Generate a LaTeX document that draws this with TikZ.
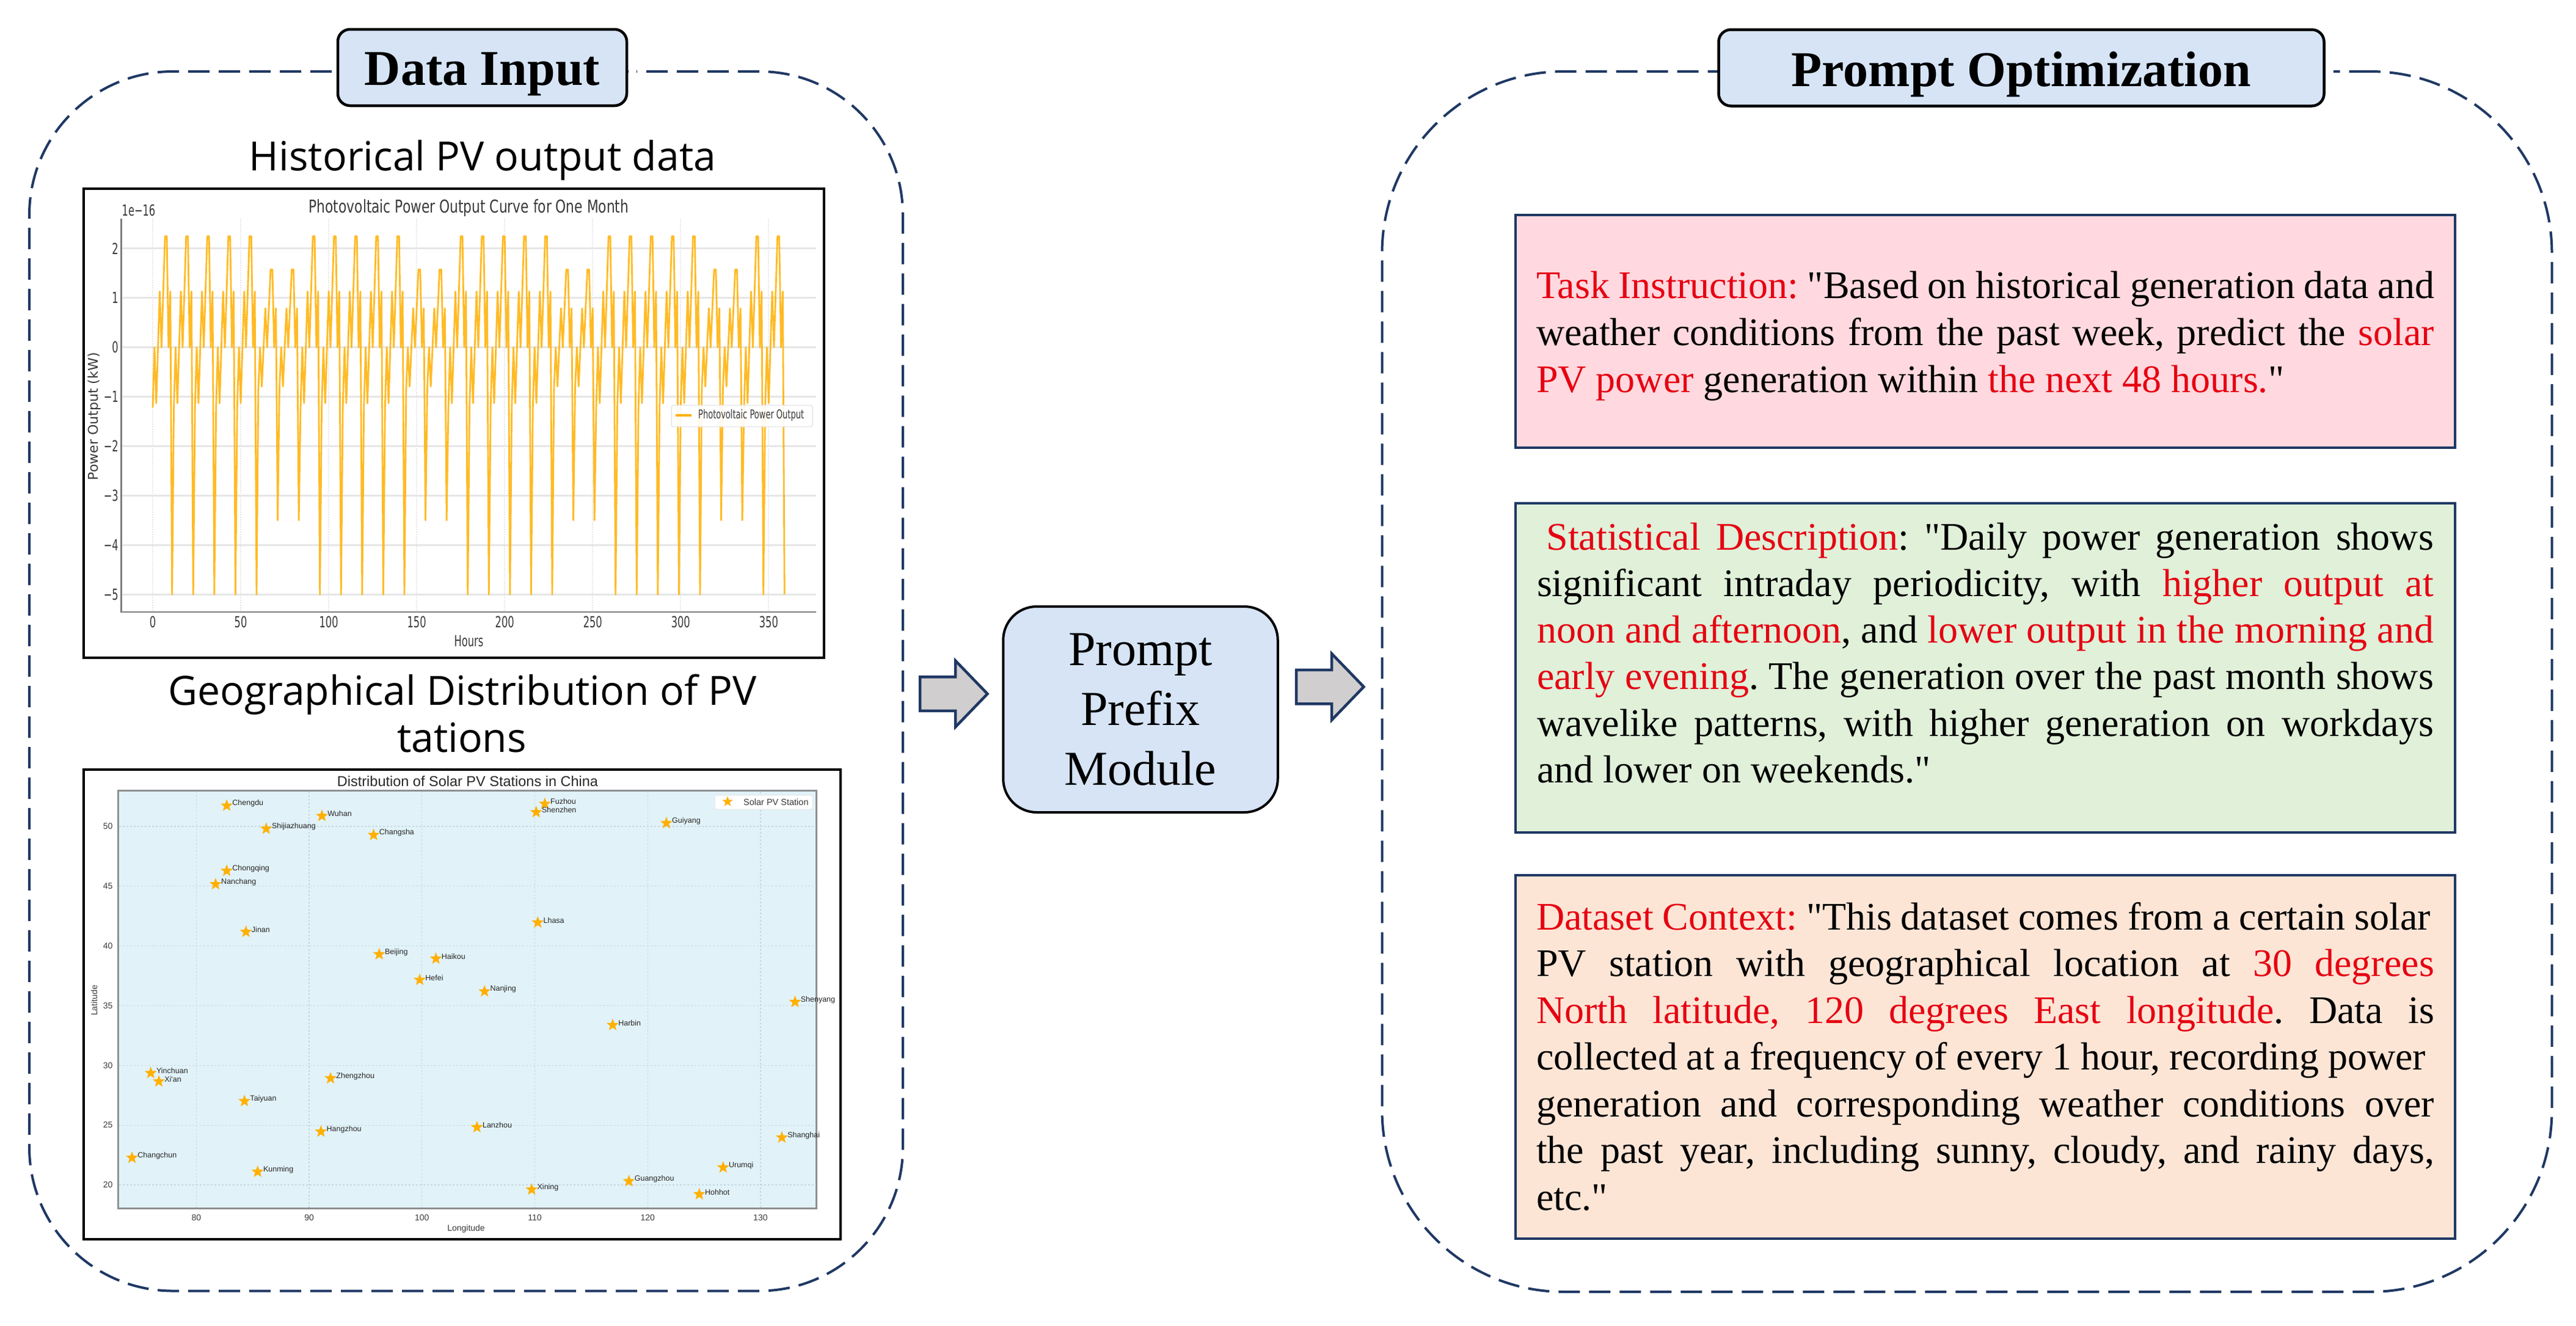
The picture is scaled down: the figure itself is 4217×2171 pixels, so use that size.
\documentclass[tikz,border=0pt]{standalone}
\usepackage{fontspec}
\usepackage{graphicx}
\usetikzlibrary{shapes.geometric,shapes.arrows}
\setmainfont{Liberation Serif}
\newfontfamily\quotefont{Liberation Serif}
\newfontfamily\plotfont{DejaVu Sans}
\newfontfamily\arialfont{Liberation Sans}
\newfontfamily\capfont{Open Sans}
\definecolor{navy}{HTML}{1F3864}
\definecolor{boxblue}{HTML}{D6E4F6}
\definecolor{arrowgrey}{HTML}{D0CECE}
\definecolor{pinkpanel}{HTML}{FFD9DF}
\definecolor{greenpanel}{HTML}{E0F0D9}
\definecolor{peachpanel}{HTML}{FDE5D6}
\definecolor{redtext}{HTML}{E60012}
\definecolor{pvorange}{HTML}{FFB000}
\definecolor{mapblue}{HTML}{E1F2F9}
\definecolor{gridgrey}{HTML}{E6E6E6}
\definecolor{mapgrid}{HTML}{C6D8DF}
\definecolor{axisgrey}{HTML}{7F7F7F}
\definecolor{plottext}{HTML}{3A3A3A}
\newcommand\cond[2][.65]{\scalebox{#1}[1]{#2}}
\newcommand\redt[1]{\textcolor{redtext}{#1}}
\newcommand\qq{{\quotefont "}}
\newcommand\pl[2][\textlinew]{\makebox[#1][s]{#2}\par}
\newcommand\plain[1]{\mbox{#1}\par}
\newlength\textlinew
\setlength\textlinew{1470pt}
\newcommand\fsz[2]{\fontsize{#1}{#2}\selectfont}
\tikzset{
  dashpanel/.style={draw=navy,line width=4,dash pattern=on 35pt off 15pt,rectangle,inner sep=0,outer sep=0},
  titlebox/.style={draw=black,fill=boxblue,line width=4.5,rounded corners=20,inner sep=0,outer sep=0,align=center,
    font=\fsz{82}{90}\bfseries},
  promptbox/.style={draw=black,fill=boxblue,line width=4,rounded corners=55,inner sep=0,outer sep=0,
    minimum width=449.5,minimum height=337,align=center,font=\fsz{80}{98}},
  blockarrow/.style={single arrow,draw=navy,fill=arrowgrey,line width=4.5,inner xsep=0,inner ysep=25.5,outer sep=0,
    minimum height=110.5,single arrow head extend=26.5,single arrow tip angle=92,
    single arrow head indent=0},
  textpanel/.style={draw=navy,line width=4.5,inner sep=0,outer sep=0,minimum width=1538},
  paneltext/.style={anchor=base west,inner sep=0,outer sep=0,font=\fsz{64}{77}\frenchspacing},
  captiontext/.style={anchor=base,inner sep=0,font=\capfont\fsz{66}{77}},
  frame/.style={draw=black,line width=4,fill=white,inner sep=0,outer sep=0},
  c1text/.style={inner sep=0,text=plottext,font=\plotfont\fsz{25}{28}},
  c1grid/.style={gridgrey,line width=3},
  c1vgrid/.style={gridgrey,line width=2,dotted},
  axis1/.style={axisgrey,line width=2.5},
  c2tick/.style={inner sep=0,text=plottext,font=\arialfont\fsz{14}{16}},
  c2grid/.style={mapgrid,line width=1.3,dashed},
  pvstar/.style={star,star points=5,star point ratio=2.4,fill=pvorange,inner sep=0,outer sep=0,minimum size=21},
  stlabel/.style={anchor=west,inner sep=0,text=black!85,font=\arialfont\fsz{12.5}{14}},
  declare function={pvhour(\h)={-1.22,0,-1.13,0,1.13,0,1.13,2.25,2.25,0,1.13,-5}[int(mod(\h,12))];
    pvday(\h)=(mod(int(\h/12),7)>=5)?0.7:1;}
}
\begin{document}
\begin{tikzpicture}[x=1pt,y=-1pt]
\useasboundingbox (0,0) rectangle (4217,2171);

% dashed outlines
\node[dashpanel,rounded corners=235,minimum width=1430,minimum height=1996.5] (inputpanel) at (763,1115.25) {};
\node[dashpanel,rounded corners=297,minimum width=1915,minimum height=1998] (optpanel) at (3220,1116) {};

% titles
\node[titlebox,minimum width=473,minimum height=125,text height=77,text depth=20] (inputtitle) at (789.5,110.5) {Data Input};
\node[titlebox,minimum width=991,minimum height=125,text height=80,text depth=20] (opttitle) at (3309,111) {Prompt Optimization};
\draw[white,line width=9] ([xshift=2.5pt,yshift=-6.5pt]inputtitle.east) -- ++(13,0);
\draw[white,line width=9] ([xshift=2.5pt,yshift=-6pt]opttitle.east) -- ++(13,0);

% captions
\node[captiontext] (cap1) at (790,279) {Historical PV output data};
\node[captiontext] (cap2) at (757,1154) {Geographical Distribution of PV};
\node[captiontext] (cap3) at (756,1231) {tations};

% ---------- chart 1 ----------
\node[frame,minimum width=1212,minimum height=768] (chartone) at (743,693) {};
\foreach \v in {2,1,0,-1,-2,-3,-4,-5}
  \draw[c1grid] (199,{568.7-80.9*\v}) -- (1335.5,{568.7-80.9*\v});
\foreach \t in {0,50,...,350}
  \draw[c1vgrid] ({250+2.881*\t},358) -- ({250+2.881*\t},1002);
\draw[pvorange,line width=2.8,line join=round,opacity=.85]
  plot[samples at={0,1,...,359},variable=\h] ({250+2.881*\h},{568.7-80.9*pvhour(\h)*pvday(\h)});
\draw[axis1] (198.7,358) -- (198.7,1002) -- (1335.5,1002);
\foreach \v/\lab in {2/2,1/1,0/0,-1/−1,-2/−2,-3/−3,-4/−4,-5/−5}
  \node[c1text,anchor=east] (yt\v) at (194,{568.7-80.9*\v}) {\cond{\lab}};
\foreach \t in {0,50,...,350}
  \node[c1text,anchor=base] (xt\t) at ({250+2.881*\t},1027) {\cond{\t}};
\node[c1text,anchor=base] (chartonetitle) at (767.5,348) {\cond[.75]{\fsz{29}{32}Photovoltaic Power Output Curve for One Month}};
\node[c1text,anchor=base west] (expo) at (199.5,353) {\cond{1e−16}};
\node[c1text,anchor=base] (hours) at (767.5,1058) {\cond{Hours}};
\node[c1text,rotate=90,font=\plotfont\fsz{22}{24}] (powerlabel) at (154,681.7) {Power Output (kW)};
\node[draw=gridgrey,line width=1.5,fill=white,fill opacity=.9,rounded corners=3,minimum width=231,minimum height=35,inner sep=0] (legendone) at (1214.5,681) {};
\coordinate (lega) at (1106,680);
\coordinate (legb) at (1132,680);
\draw[pvorange,line width=3.5] (lega) -- (legb);
\node[c1text,anchor=west,font=\plotfont\fsz{20}{22}] (legendonetext) at (1143,680) {\cond{Photovoltaic Power Output}};

% ---------- chart 2 ----------
\node[frame,minimum width=1239,minimum height=769] (charttwo) at (756.5,1644.5) {};
\node[fill=mapblue,draw=axisgrey!85!mapblue,line width=3,inner sep=0,outer sep=0,minimum width=1142.5,minimum height=684] (mapplot) at (765,1636.5) {};
\foreach \lon in {80,90,...,130}
  \draw[c2grid] ({321.4+18.47*(\lon-80)},1296) -- ({321.4+18.47*(\lon-80)},1977);
\foreach \lat in {20,25,...,50}
  \draw[c2grid] (195,{1940-19.57*(\lat-20)}) -- (1335,{1940-19.57*(\lat-20)});
\foreach \lon in {80,90,...,130}
  \node[c2tick,anchor=base] (lont\lon) at ({321.4+18.47*(\lon-80)},1998) {\lon};
\foreach \lat in {20,25,...,50}
  \node[c2tick,anchor=east] (latt\lat) at (184.6,{1940-19.57*(\lat-20)}) {\lat};
\node[inner sep=0,anchor=base,text=plottext!70!black,font=\arialfont\fsz{23.5}{26}] (charttwotitle) at (765.5,1287) {Distribution of Solar PV Stations in China};
\node[c2tick,anchor=base] (longlabel) at (763,2015.5) {Longitude};
\node[c2tick,rotate=90] (latlabel) at (154,1638) {Latitude};
\foreach \zx/\zy/\nm [count=\k] in {327/155/Chengdu,515/188/Wuhan,405/229/Shijiazhuang,617/249/Changsha,955/149/Fuzhou,938/176/Shenzhen,1195/211/Guiyang,327/364/Chongqing,305/407/Nanchang,365/560/Jinan,941/530/Lhasa,628/632/Beijing,740/646/Haikou,708/714/Hefei,836/751/Nanjing,1449/785/Shenyang,1089/859/Harbin,177/1013/Yinchuan,193/1040/Xi'an,532/1030/Zhengzhou,362/1103/Taiyuan,513/1201/Hangzhou,821/1187/Lanzhou,1423/1220/Shanghai,140/1285/Changchun,388/1330/Kunming,1307/1316/Urumqi,1121/1360/Guangzhou,929/1387/Xining,1260/1402/Hohhot}{
  \node[pvstar] (star\k) at ({100+\zx/1.206},{1240+\zy/1.96}) {};
  \node[stlabel] (city\k) at ({100+(\zx+11)/1.206},{1240+(\zy-7)/1.96}) {\nm};
}
\node[fill=white,draw=gridgrey,line width=1,rounded corners=3,minimum width=160,minimum height=23,inner sep=0] (legendtwo) at (1250,1313.5) {};
\node[pvstar,minimum size=18] (legendstar) at (1191,1312.5) {};
\node[c2tick,anchor=west,font=\arialfont\fsz{14.5}{16}] (legendtwotext) at (1217,1313) {Solar PV Station};

% ---------- centre ----------
\node[blockarrow,anchor=tail] (arrowin) at (1506,1136) {};
\node[promptbox] (prefix) at (1867,1161.5) {Prompt\\Prefix\\Module};
\node[blockarrow,anchor=tail] (arrowout) at (2122,1124.5) {};

% ---------- text panels ----------
\node[textpanel,fill=pinkpanel,minimum height=381] (panelA) at (3250,542.5) {};
\node[textpanel,fill=greenpanel,minimum height=539] (panelB) at (3250,1093.5) {};
\node[textpanel,fill=peachpanel,minimum height=595] (panelC) at (3250,1730.5) {};

\node[paneltext] (textA) at (2515,488.6) {\parbox[t]{1470pt}{\setlength\lineskiplimit{-100pt}\setlength\baselineskip{77pt}%
  \pl{\redt{Task Instruction:} \qq Based on historical generation data and}%
  \pl{weather conditions from the past week, predict the \redt{solar}}%
  \plain{\redt{PV power} generation within \redt{the next 48 hours.}\qq}}};

\node[paneltext] (textB) at (2516,900) {\parbox[t]{1470pt}{\setlength\lineskiplimit{-100pt}\setlength\baselineskip{76.3pt}%
  \hspace*{15.5pt}\makebox[1452.5pt][s]{\redt{Statistical Description}: \qq Daily power generation shows}\par
  \pl[1468pt]{significant intraday periodicity, with \redt{higher output at}}%
  \pl[1468pt]{\redt{noon and afternoon}, and \redt{lower output in the morning and}}%
  \pl[1468pt]{\redt{early evening}. The generation over the past month shows}%
  \pl[1468pt]{wavelike patterns, with higher generation on workdays}%
  \plain{and lower on weekends.\qq}}};

\node[paneltext] (textC) at (2515,1522) {\parbox[t]{1470pt}{\setlength\lineskiplimit{-100pt}\setlength\baselineskip{76.5pt}%
  \pl[1464pt]{\redt{Dataset Context:} \qq This dataset comes from a certain solar}%
  \pl{PV station with geographical location at \redt{30 degrees}}%
  \pl{\redt{North latitude, 120 degrees East longitude}. Data is}%
  \pl[1456pt]{collected at a frequency of every 1 hour, recording power}%
  \pl{generation and corresponding weather conditions over}%
  \pl{the past year, including sunny, cloudy, and rainy days,}%
  \plain{etc.\qq}}};
\end{tikzpicture}
\end{document}
